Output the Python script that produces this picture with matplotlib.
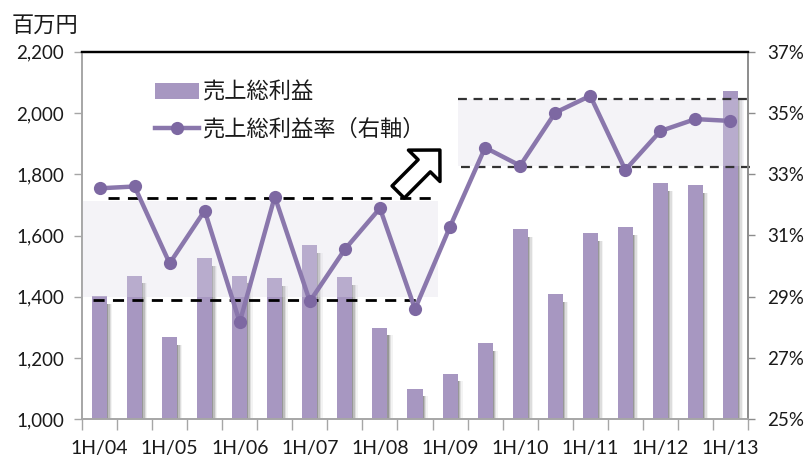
import matplotlib
matplotlib.use("Agg")
import matplotlib.pyplot as plt
import numpy as np

plt.rcParams['font.family'] = ['Lato', 'Noto Sans CJK JP', 'DejaVu Sans']

periods = ["1H/04", "2H/04", "1H/05", "2H/05", "1H/06", "2H/06", "1H/07", "2H/07",
           "1H/08", "2H/08", "1H/09", "2H/09", "1H/10", "2H/10", "1H/11", "2H/11",
           "1H/12", "2H/12", "1H/13"]
gross_profit = [1403, 1469, 1268, 1527, 1469, 1460, 1569, 1463, 1299, 1100,
                1149, 1248, 1620, 1408, 1607, 1628, 1771, 1764, 2072]
margin_pct = [32.54, 32.60, 30.09, 31.81, 28.17, 32.27, 28.85, 30.55, 31.89, 28.60,
              31.29, 33.87, 33.28, 35.01, 35.56, 33.14, 34.41, 34.80, 34.74]
left_ticks = [1000, 1200, 1400, 1600, 1800, 2000, 2200]
right_ticks = [25, 27, 29, 31, 33, 35, 37]
legend_labels = ["売上総利益", "売上総利益率（右軸）"]
unit_label = "百万円"

W, H = 811, 457
fig = plt.figure(figsize=(W / 100, H / 100), dpi=100)
ax = fig.add_axes([82 / W, 1 - 419.3 / H, (748 - 82) / W, (419.3 - 51.7) / H])

x = np.arange(len(periods))
bar_color = '#A797C1'
bw = 0.43
# soft shadows
for off, a in [(0.03, 0.30), (0.07, 0.20), (0.11, 0.12), (0.15, 0.06)]:
    ax.bar(x + off, np.array(gross_profit) - 1000 - 25, bottom=1000, width=bw,
           color='#404040', alpha=a, zorder=1, linewidth=0)
bars = ax.bar(x, np.array(gross_profit) - 1000, bottom=1000, width=bw, color=bar_color,
              zorder=2, linewidth=0, label=legend_labels[0])

ax.set_xlim(-0.5, len(periods) - 0.5)
ax.set_ylim(1000, 2200)
ax.set_yticks(left_ticks)
ax.set_yticklabels([f"{v:,}" for v in left_ticks])
ax.set_xticks(x[::2])
ax.set_xticklabels(periods[::2])
ax.set_xticks(np.arange(-0.5, len(periods)), minor=True)

# shaded ranges
band_kw = dict(color=(222 / 255, 219 / 255, 232 / 255), alpha=0.32, linewidth=0, zorder=3)
ax.fill_between([-0.5, 9.67], 1399, 1713, **band_kw)
ax.fill_between([10.22, 18.4], 1828, 2044, **band_kw)
dash_kw = dict(color='black', linestyle=(0, (4, 3)), linewidth=2.0, zorder=4, clip_on=False)
ax.plot([0.24, 9.67], [1722, 1722], **dash_kw)
ax.plot([-0.2, 9.2], [1389, 1389], **dash_kw)
dash_kw2 = dict(dash_kw, color='#333333', linewidth=1.6)
ax.plot([10.22, 18.65], [2046, 2046], **dash_kw2)
ax.plot([10.3, 18.65], [1824, 1824], **dash_kw2)

# arrow
ax.annotate('', xy=(9.71, 1879), xytext=(8.52, 1742),
            arrowprops=dict(arrowstyle='simple,head_length=0.8,head_width=1.6,tail_width=0.62',
                            fc='white', ec='black', lw=2.5, mutation_scale=20,
                            shrinkA=0, shrinkB=0), zorder=6)

# right axis
ax2 = ax.twinx()
ax2.set_ylim(25, 37)
ax2.set_yticks(right_ticks)
ax2.set_yticklabels([f"{v}%" for v in right_ticks])
line_color = '#8A77AC'
ln, = ax2.plot(x, margin_pct, color=line_color, linewidth=3.2, marker='o',
               markersize=9.5, markerfacecolor='#7D68A2', markeredgewidth=0,
               zorder=5, label=legend_labels[1])

# spines & ticks
for a in (ax, ax2):
    a.spines['top'].set_color('black')
    a.spines['top'].set_linewidth(1.6)
    a.spines['left'].set_color('#A6A6A6')
    a.spines['right'].set_color('#8C8C8C')
    a.spines['bottom'].set_color('#A6A6A6')
    a.spines['left'].set_linewidth(1.2)
    a.spines['right'].set_linewidth(1.2)
    a.spines['bottom'].set_linewidth(1.2)
ax.tick_params(axis='y', direction='out', length=6, width=1, color='#A6A6A6',
               pad=7, labelsize=13.5, labelcolor='#1a1a1a')
ax.tick_params(axis='x', which='major', length=0, pad=15, labelsize=14, labelcolor='#1a1a1a')
ax.tick_params(axis='x', which='minor', direction='out', length=8, width=1, color='#A6A6A6')
ax2.tick_params(axis='y', direction='out', length=5, width=1, color='#8C8C8C',
                pad=9, labelsize=13.5, labelcolor='#1a1a1a')

fig.text(12 / W, 1 - 25 / H, unit_label, fontsize=16, va='center', ha='left',
         family=['Noto Sans CJK JP'], color='#1a1a1a')

leg = ax.legend([bars, ln], legend_labels, loc='upper left',
                bbox_to_anchor=(155 / W, 1 - 81 / H), bbox_transform=fig.transFigure,
                frameon=False, borderpad=0, borderaxespad=0, handlelength=2.0,
                handletextpad=0.15, labelspacing=0.62,
                prop={'family': ['Noto Sans CJK JP'], 'size': 16})
for t in leg.get_texts():
    t.set_color('#1a1a1a')
leg.set_zorder(10)

fig.savefig('out.png', dpi=100)
